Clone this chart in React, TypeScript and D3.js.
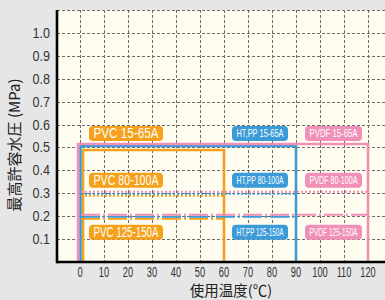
import React from 'react';
import * as d3 from 'd3';

// materials and their max temperature (°C)
const materials = ['PVC', 'HT,PP', 'PVDF'];
const maxTemps = [60, 90, 120];
const matColors = ['#f5a11c', '#3b9bd9', '#f08fb8'];

// size classes and max pressure (MPa)
const sizes = ['15-65A', '80-100A', '125-150A'];
const pressures = [0.5, 0.3, 0.2];

const xTicks = [0, 10, 20, 30, 40, 50, 60, 70, 80, 90, 100, 110, 120];
const yTicks = [0.1, 0.2, 0.3, 0.4, 0.5, 0.6, 0.7, 0.8, 0.9, 1.0];

const W = 385;
const H = 300;

export default function App() {
  const x = d3.scaleLinear().domain([0, 120]).range([80, 368]);
  const y = d3.scaleLinear().domain([0, 1.1]).range([262, 10]);
  const left = 57;

  // small pixel offsets so overlapping lines stay visible (pvc, htpp, pvdf)
  const dx = [3, 0.5, -2];
  const dyTop = [2.5, -1.5, -3.5];
  const dyLine = [2.5, 0.5, -1.5];
  const dashes = ['none', '2,2', '19,3,2,3'];

  // badge layout
  const badgeX = [126, 260, 333.5];
  const badgeW = [74, 56, 57];
  const badgeOff = [-14, -13, 16];

  const line = d3.line<[number, number]>();

  return (
    <svg width={W} height={H} style={{ position: 'absolute', left: 0, top: 0 }}>
      <rect x={0} y={0} width={W} height={H} fill="#e6e6e6" />
      <rect x={left} y={y(1.1)} width={W - left} height={y(0) - y(1.1)} fill="#fffdef" />

      {/* grid */}
      <g stroke="#6d6d6d" strokeWidth={1} strokeDasharray="3,2">
        {[...yTicks, 1.1].map((t) => (
          <line key={'h' + t} x1={left} x2={W} y1={Math.round(y(t)) + 0.5} y2={Math.round(y(t)) + 0.5} />
        ))}
        {xTicks.map((t) => (
          <line key={'v' + t} x1={Math.round(x(t)) + 0.5} x2={Math.round(x(t)) + 0.5} y1={y(1.1)} y2={y(0)} />
        ))}
      </g>

      {/* max-pressure envelopes */}
      {materials.map((m, i) => {
        const pts: [number, number][] = [
          [x(0) + dx[i], y(0)],
          [x(0) + dx[i], y(pressures[0]) + dyTop[i]],
          [x(maxTemps[i]), y(pressures[0]) + dyTop[i]],
          [x(maxTemps[i]), y(0)],
        ];
        return (
          <path key={'env' + m} d={line(pts) || ''} fill="none" stroke={matColors[i]} strokeWidth={2.6} />
        );
      })}
      {sizes.slice(1).map((s, j) =>
        materials.map((m, i) => (
          <line
            key={s + m}
            x1={x(0) + 1}
            x2={x(maxTemps[i])}
            y1={y(pressures[j + 1]) + dyLine[i]}
            y2={y(pressures[j + 1]) + dyLine[i]}
            stroke={matColors[i]}
            strokeWidth={2}
            strokeDasharray={dashes[j + 1]}
          />
        ))
      )}

      {/* badges */}
      {sizes.map((s, j) =>
        materials.map((m, i) => {
          const cy = y(pressures[j]) + badgeOff[j];
          const fs = i === 0 ? 14 : 11;
          return (
            <g key={'b' + s + m}>
              <rect x={badgeX[i] - badgeW[i] / 2} y={cy - 7.5} width={badgeW[i]} height={15} rx={4} fill={matColors[i]} />
              <text
                x={badgeX[i]}
                y={cy + fs * 0.36}
                textAnchor="middle"
                fill="#fff"
                fontFamily="'Liberation Sans', Arial, sans-serif"
                fontSize={fs}
                textLength={badgeW[i] - 9}
                lengthAdjust="spacingAndGlyphs"
              >
                {m + ' ' + s}
              </text>
            </g>
          );
        })
      )}

      {/* axes */}
      <line x1={left} x2={W} y1={y(0)} y2={y(0)} stroke="#000" strokeWidth={2.6} />
      <line x1={left} x2={left} y1={y(1.1)} y2={y(0) + 1.3} stroke="#000" strokeWidth={2.6} />

      <g fontFamily="'Liberation Sans', Arial, sans-serif" fill="#333">
        {yTicks.map((t) => (
          <text key={'yt' + t} transform={`translate(50,${y(t) + 5}) scale(0.9,1)`} textAnchor="end" fontSize={14}>
            {t.toFixed(1)}
          </text>
        ))}
        {xTicks.map((t) => (
          <text key={'xt' + t} transform={`translate(${x(t)},277) scale(0.66,1)`} textAnchor="middle" fontSize={14}>
            {t}
          </text>
        ))}
      </g>

      <text
        transform="translate(20,145) rotate(-90)"
        textAnchor="middle"
        fontFamily="'Noto Sans CJK JP', sans-serif"
        fontSize={15}
        fill="#222"
      >
        最高許容水圧 (MPa)
      </text>
      <text x={231} y={296} textAnchor="middle" fontFamily="'Noto Sans CJK JP', sans-serif" fontSize={14.5} fill="#222">
        使用温度(℃)
      </text>
    </svg>
  );
}
